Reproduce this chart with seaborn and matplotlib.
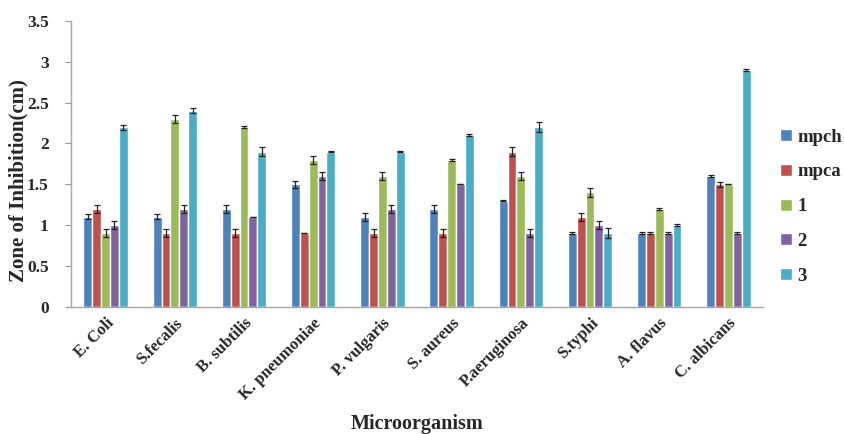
import pandas as pd
import numpy as np
import matplotlib.pyplot as plt
import seaborn as sns

# ==========================================
# Data
# ==========================================
organisms = ["E. Coli", "S.fecalis", "B. subtilis", "K. pneumoniae", "P. vulgaris",
             "S. aureus", "P.aeruginosa", "S.typhi", "A. flavus", "C. albicans"]
series = ["mpch", "mpca", "1", "2", "3"]

mpch = [1.1, 1.1, 1.2, 1.5, 1.1, 1.2, 1.3, 0.9, 0.9, 1.6]
mpca = [1.2, 0.9, 0.9, 0.9, 0.9, 0.9, 1.9, 1.1, 0.9, 1.5]
s1 = [0.9, 2.3, 2.2, 1.8, 1.6, 1.8, 1.6, 1.4, 1.2, 1.5]
s2 = [1.0, 1.2, 1.1, 1.6, 1.2, 1.5, 0.9, 1.0, 0.9, 0.9]
s3 = [2.2, 2.4, 1.9, 1.9, 1.9, 2.1, 2.2, 0.9, 1.0, 2.9]

err_mpch = [0.03, 0.03, 0.05, 0.04, 0.05, 0.05, 0.01, 0.01, 0.01, 0.01]
err_mpca = [0.05, 0.05, 0.05, 0.0, 0.05, 0.05, 0.05, 0.05, 0.01, 0.03]
err_s1 = [0.05, 0.05, 0.01, 0.05, 0.05, 0.01, 0.05, 0.06, 0.01, 0.0]
err_s2 = [0.05, 0.05, 0.0, 0.05, 0.05, 0.0, 0.05, 0.05, 0.01, 0.01]
err_s3 = [0.03, 0.03, 0.05, 0.01, 0.01, 0.01, 0.06, 0.06, 0.01, 0.01]

colors = ["#4F81BD", "#C0504D", "#9BBB59", "#8064A2", "#4BACC6"]

values = [mpch, mpca, s1, s2, s3]
errors = [err_mpch, err_mpca, err_s1, err_s2, err_s3]

df = pd.DataFrame({
    "Microorganism": organisms * len(series),
    "Series": np.repeat(series, len(organisms)),
    "Zone": np.concatenate(values),
    "Err": np.concatenate(errors),
})

# ==========================================
# Plot
# ==========================================
sns.set_style("white")
plt.rcParams["font.family"] = ["Liberation Serif", "DejaVu Serif"]

fig = plt.figure(figsize=(8.45, 4.34), dpi=100)
ax = fig.add_axes([0.084, 0.293, 0.819, 0.659])

sns.barplot(data=df, x="Microorganism", y="Zone", hue="Series", order=organisms,
            hue_order=series, palette=colors, width=0.64, errorbar=None,
            saturation=1, ax=ax)

# error bars on top of each bar
for cont, ser in zip(ax.containers, series):
    sub = df[df["Series"] == ser].set_index("Microorganism").loc[organisms]
    xs = [p.get_x() + p.get_width() / 2 for p in cont.patches]
    ax.errorbar(xs, sub["Zone"], yerr=sub["Err"], fmt="none", ecolor="#222222",
                elinewidth=0.9, capsize=2.5, capthick=0.9)

ax.set_ylim(0, 3.5)
ax.set_xlim(-0.5, len(organisms) - 0.5)
ax.set_yticks(np.arange(0, 3.51, 0.5))
ax.set_yticklabels(["0", "0.5", "1", "1.5", "2", "2.5", "3", "3.5"],
                   fontsize=12.5, fontweight="bold")
ax.set_xticks(range(len(organisms)))
ax.set_xticklabels(organisms, rotation=45, ha="right", rotation_mode="anchor",
                   fontsize=12, fontweight="bold")
ax.tick_params(axis="x", length=0, pad=6)
ax.tick_params(axis="y", length=4, color="#999999", pad=12, left=True)

ax.set_ylabel("Zone of Inhibition(cm)", fontsize=15, fontweight="bold")
ax.yaxis.set_label_coords(-0.062, 0.44)
ax.set_xlabel("Microorganism", fontsize=14.5, fontweight="bold", labelpad=8)

for side in ["top", "right"]:
    ax.spines[side].set_visible(False)
for side in ["left", "bottom"]:
    ax.spines[side].set_color("#A6A6A6")
    ax.spines[side].set_linewidth(1.0)

ax.legend(loc="center left", bbox_to_anchor=(1.025, 0.35), frameon=False,
          borderaxespad=0, borderpad=0,
          prop={"weight": "bold", "size": 13.5}, labelspacing=0.95,
          handlelength=0.6, handleheight=0.6, handletextpad=0.3)

fig.savefig("out.png", dpi=100)
